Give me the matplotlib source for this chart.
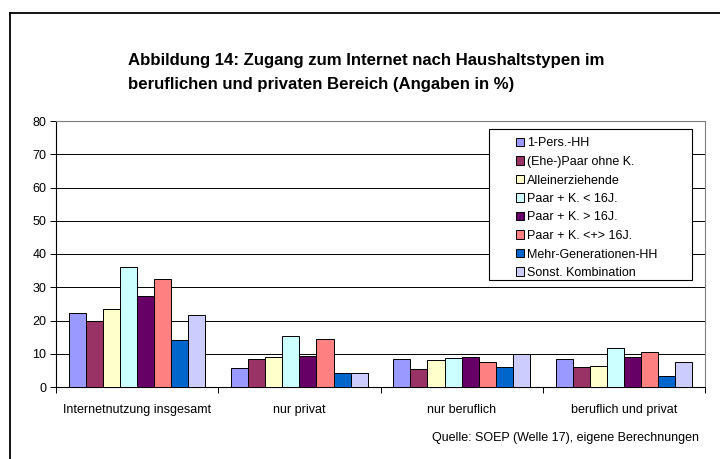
import matplotlib
matplotlib.use("Agg")
import matplotlib.pyplot as plt
import numpy as np
from matplotlib.lines import Line2D
from matplotlib.patches import Patch, Rectangle

plt.rcParams['font.family'] = ['Liberation Sans', 'DejaVu Sans']

categories = ["Internetnutzung insgesamt", "nur privat", "nur beruflich", "beruflich und privat"]
series_names = ["1-Pers.-HH", "(Ehe-)Paar ohne K.", "Alleinerziehende", "Paar + K. < 16J.",
                "Paar + K. > 16J.", "Paar + K. <+> 16J.", "Mehr-Generationen-HH", "Sonst. Kombination"]
s_1pers = [22.4, 5.8, 8.3, 8.3]
s_paar_ohne = [19.9, 8.3, 5.4, 6.1]
s_allein = [23.6, 8.9, 8.1, 6.4]
s_paar_u16 = [36.0, 15.4, 8.6, 11.7]
s_paar_o16 = [27.4, 9.3, 8.9, 8.9]
s_paar_uo16 = [32.6, 14.5, 7.6, 10.5]
s_mehrgen = [14.0, 4.3, 5.9, 3.4]
s_sonst = [21.7, 4.2, 9.8, 7.6]
series = [s_1pers, s_paar_ohne, s_allein, s_paar_u16, s_paar_o16, s_paar_uo16, s_mehrgen, s_sonst]
colors = ["#9999FF", "#993366", "#FFFFCC", "#CCFFFF", "#660066", "#FF8080", "#0066CC", "#CCCCFF"]
yticks = [0, 10, 20, 30, 40, 50, 60, 70, 80]

W, H = 720, 459
fig = plt.figure(figsize=(7.2, 4.59), dpi=100)
ax = fig.add_axes([56 / W, 1 - 387 / H, (705 - 56) / W, (387 - 121) / H])

n = len(series)
bw = 1.0 / (n + 1.5)
x = np.arange(len(categories))
for i, (vals, c, name) in enumerate(zip(series, colors, series_names)):
    offs = (i - (n - 1) / 2) * bw
    ax.bar(x + offs, vals, width=bw, color=c, edgecolor="black", linewidth=0.7, label=name, zorder=3)

ax.set_xlim(-0.5, len(categories) - 0.5)
ax.set_ylim(0, 80)
ax.set_yticks(yticks)
ax.set_yticklabels([str(t) for t in yticks], fontsize=9)
for t in yticks[1:-1]:
    ax.axhline(t, color="black", linewidth=0.7, zorder=1)
ax.axhline(80, color="#808080", linewidth=0.8, zorder=1)

ax.set_xticks(np.arange(len(categories) + 1) - 0.5)
ax.set_xticklabels([])
ax.set_xticks(x, minor=True)
ax.set_xticklabels(categories, minor=True, fontsize=9)
ax.tick_params(axis="x", which="minor", length=0, pad=12)
ax.tick_params(axis="x", which="major", length=4, width=0.7, direction="out")
ax.tick_params(axis="y", length=4, width=0.7, direction="out", pad=3)

for s in ["left", "bottom"]:
    ax.spines[s].set_color("black")
    ax.spines[s].set_linewidth(0.8)
for s in ["top", "right"]:
    ax.spines[s].set_color("#808080")
    ax.spines[s].set_linewidth(0.8)

# legend frame (wide Excel-style box)
fig.add_artist(Rectangle((489 / W, 1 - 280 / H), (692 - 489) / W, (280 - 129) / H,
                         transform=fig.transFigure, facecolor="white", edgecolor="black",
                         linewidth=0.8, zorder=4))
handles = [Patch(facecolor=c, edgecolor="black", linewidth=0.7) for c in colors]
leg = fig.legend(handles, series_names, loc="upper left",
                 bbox_to_anchor=(516 / W, 1 - 137.5 / H), bbox_transform=fig.transFigure,
                 fontsize=9, frameon=False,
                 handlelength=0.65, handleheight=0.65, handletextpad=0.25,
                 labelspacing=0.52, borderpad=0.0, borderaxespad=0)
leg.set_zorder(5)

fig.text(128 / W, 1 - 61 / H, "Abbildung 14: Zugang zum Internet nach Haushaltstypen im",
         fontsize=12.1, fontweight="bold", ha="left", va="center")
fig.text(128 / W, 1 - 84 / H, "beruflichen und privaten Bereich (Angaben in %)",
         fontsize=12.1, fontweight="bold", ha="left", va="center")
fig.text(699 / W, 1 - 438 / H, "Quelle: SOEP (Welle 17), eigene Berechnungen",
         fontsize=9, ha="right", va="center")

fig.add_artist(Line2D([10 / W, 10 / W], [1 - 13 / H, 0], transform=fig.transFigure,
                      color="black", linewidth=1.3))
fig.add_artist(Line2D([10 / W, 1], [1 - 13 / H, 1 - 13 / H], transform=fig.transFigure,
                      color="black", linewidth=1.3))

fig.savefig("out.png", dpi=100)
